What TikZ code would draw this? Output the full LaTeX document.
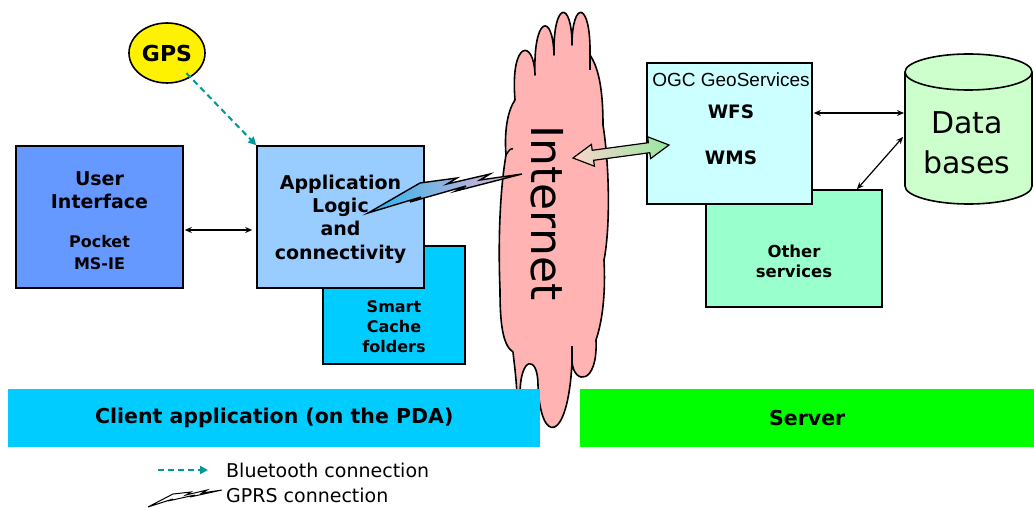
\documentclass[tikz,border=0pt]{standalone}
\usepackage{fontspec}
\setmainfont{DejaVu Sans}
\newfontfamily\arialf{Liberation Sans}
\usetikzlibrary{arrows.meta,shapes.geometric}
\definecolor{uiblue}{RGB}{102,153,255}
\definecolor{appblue}{RGB}{153,204,255}
\definecolor{cachecyan}{RGB}{0,204,255}
\definecolor{cloudpink}{RGB}{255,179,179}
\definecolor{ogccyan}{RGB}{204,255,255}
\definecolor{othergreen}{RGB}{153,255,204}
\definecolor{dbgreen}{RGB}{204,255,204}
\definecolor{servergreen}{RGB}{0,255,0}
\definecolor{btteal}{RGB}{0,153,153}
\newcommand{\fsz}[2]{\fontsize{#1}{#2}\selectfont}
\begin{document}
\begin{tikzpicture}[x=1pt,y=-1pt,
  box/.style={draw=black, line width=1.6pt, inner sep=0pt},
  lbl/.style={align=center, inner sep=0pt, font=\bfseries\fsz{16}{20}},
  dbl/.style={{Stealth[length=7pt,width=6pt]}-{Stealth[length=7pt,width=6pt]}, line width=1.2pt},
  bt/.style={draw=btteal, line width=2pt, dash pattern=on 6pt off 4pt, -{Triangle[length=8pt,width=8pt]}},
  boltline/.style={line width=1.4pt, line join=miter}]
\useasboundingbox (0,0) rectangle (1034,508);

% client side boxes
\node[box, fill=cachecyan, minimum width=142pt, minimum height=118pt] (cache) at (394,305) {};
\node[lbl] (cacheT) at (394,327) {Smart\\Cache\\folders};
\node[box, fill=appblue, minimum width=167pt, minimum height=142pt] (app) at (340.5,217) {};
\node[lbl, font=\bfseries\fsz{19}{23.3}] (appT) at (340.5,219) {Application\\Logic\\and\\connectivity};
\node[box, fill=uiblue, minimum width=167pt, minimum height=142pt] (ui) at (99.5,217) {};
\node[lbl, font=\bfseries\fsz{19}{23}] (uiT1) at (99.5,190) {User\\Interface};
\node[lbl, font=\bfseries\fsz{16}{22}] (uiT2) at (99.5,253) {Pocket\\MS-IE};

% GPS
\node[ellipse, draw=black, line width=1.6pt, fill=yellow, minimum width=76pt, minimum height=60pt, inner sep=0pt, font=\bfseries\fsz{22}{26}] (gps) at (167,53) {GPS};
\draw[bt, shorten <=28pt] (gps.center) -- (app.north west);
\draw[dbl, shorten <=1pt, shorten >=4pt] ([yshift=-13pt]ui.east) -- ([yshift=-13pt]app.west);

% cloud
\filldraw[fill=cloudpink, draw=black, line width=1.6pt, line join=round]
 (515,100)
 .. controls (510,40) and (534,38) .. (535,75)
 .. controls (533,15) and (553,12) .. (554,55)
 .. controls (553,0) and (572,0) .. (572,45)
 .. controls (572,0) and (591,0) .. (590,55)
 .. controls (600,70) and (603,95) .. (603,125)
 .. controls (610,170) and (610,230) .. (604,260)
 .. controls (606,300) and (601,325) .. (596,340)
 .. controls (598,385) and (574,385) .. (572,362)
 .. controls (568,445) and (540,445) .. (538,385)
 .. controls (538,355) and (520,355) .. (520,395)
 -- (517,395)
 .. controls (516,375) and (514,362) .. (513,352)
 .. controls (502,345) and (500,320) .. (500,290)
 .. controls (498,240) and (500,190) .. (506,155)
 .. controls (504,130) and (508,110) .. (515,100) -- cycle;
\draw[line width=1.4pt] (572,362) -- (572,346);
\draw[line width=1.4pt] (506,155) .. controls (509,150) and (511,148) .. (513,149);
\draw[line width=1.4pt] (590,55) -- (590,70);
\node[rotate=-90, font=\fsz{44}{50}, inner sep=0pt] (inet) at (547,213) {Internet};

% bottom bars
\node[fill=cachecyan, minimum width=532pt, minimum height=58pt, inner sep=0pt, anchor=north west, font=\bfseries\fsz{20.5}{24}] (client) at (8,389) {Client application (on the PDA)};
\node[fill=servergreen, minimum width=454pt, minimum height=58pt, inner sep=0pt, anchor=north west, font=\bfseries\fsz{20.5}{24}] (server) at (580,389) {Server};

% GPRS bolt
\filldraw[boltline, draw=black, left color={rgb,255:red,40;green,180;blue,240}, right color={rgb,255:red,245;green,180;blue,205}]
 (368,213) -- (420,183) -- (457,178) -- (447,184) -- (490,174) -- (480,180) -- (522,174)
 -- (456,191) -- (466,186) -- (410,202) -- (421,197) -- cycle;

% server side
\node[box, fill=othergreen, minimum width=176pt, minimum height=117pt] (other) at (794,248.5) {};
\node[lbl, font=\bfseries\fsz{16.5}{20}] (otherT) at (794,261) {Other\\services};
\node[box, fill=ogccyan, minimum width=165pt, minimum height=141pt] (ogc) at (729.5,133.5) {};
\node[inner sep=0pt, font=\arialf\fsz{19}{22}] (ogcT) at (731,80) {OGC GeoServices};
\node[lbl, font=\bfseries\fsz{18.5}{22}] (wfs) at (731,112) {WFS};
\node[lbl, font=\bfseries\fsz{18.5}{22}] (wms) at (731,158) {WMS};

% block double arrow
\filldraw[draw=black, line width=1.2pt, line join=miter, left color={rgb,255:red,250;green,212;blue,205}, right color={rgb,255:red,150;green,232;blue,160}]
 (573,158) -- (591.4,144.4) -- (592.2,150.3) -- (648.4,142.7) -- (647.6,136.8) -- (669,145)
 -- (650.6,158.6) -- (649.8,152.7) -- (593.6,160.3) -- (594.4,166.2) -- cycle;

% database
\filldraw[fill=dbgreen, draw=black, line width=1.6pt]
 (905,72) -- (905,186) .. controls (905,195.9) and (933.4,204) .. (968.5,204)
 .. controls (1003.6,204) and (1032,195.9) .. (1032,186) -- (1032,72)
 .. controls (1032,62.1) and (1003.6,54) .. (968.5,54)
 .. controls (933.4,54) and (905,62.1) .. (905,72) -- cycle;
\draw[line width=1.6pt] (905,72) .. controls (905,81.9) and (933.4,90) .. (968.5,90)
 .. controls (1003.6,90) and (1032,81.9) .. (1032,72);
\node[align=center, inner sep=0pt, font=\fsz{30}{40}] (db) at (967,143) {Data\\bases};
\coordinate (dbL) at (904,113);
\coordinate (dbLL) at (903,137);
\draw[dbl, shorten <=1pt] (ogc.east |- dbL) -- (dbL);
\draw[dbl] ([xshift=63pt]other.north) -- (dbLL);

% legend
\coordinate (btA) at (158,470);
\coordinate (btB) at (208,470);
\draw[bt] (btA) -- (btB);
\node[anchor=west, inner sep=0pt, font=\fsz{19}{22}] (btL) at (226,470) {Bluetooth connection};
\filldraw[line width=1pt, fill=white, draw=black]
 (148,507) -- (173,494) -- (191,492) -- (186,495) -- (207,490) -- (202,493) -- (222,490)
 -- (190,497) -- (195,495) -- (168,501) -- (173,499) -- cycle;
\node[anchor=west, inner sep=0pt, font=\fsz{19}{22}] (gprsL) at (226,495) {GPRS connection};
\end{tikzpicture}
\end{document}
